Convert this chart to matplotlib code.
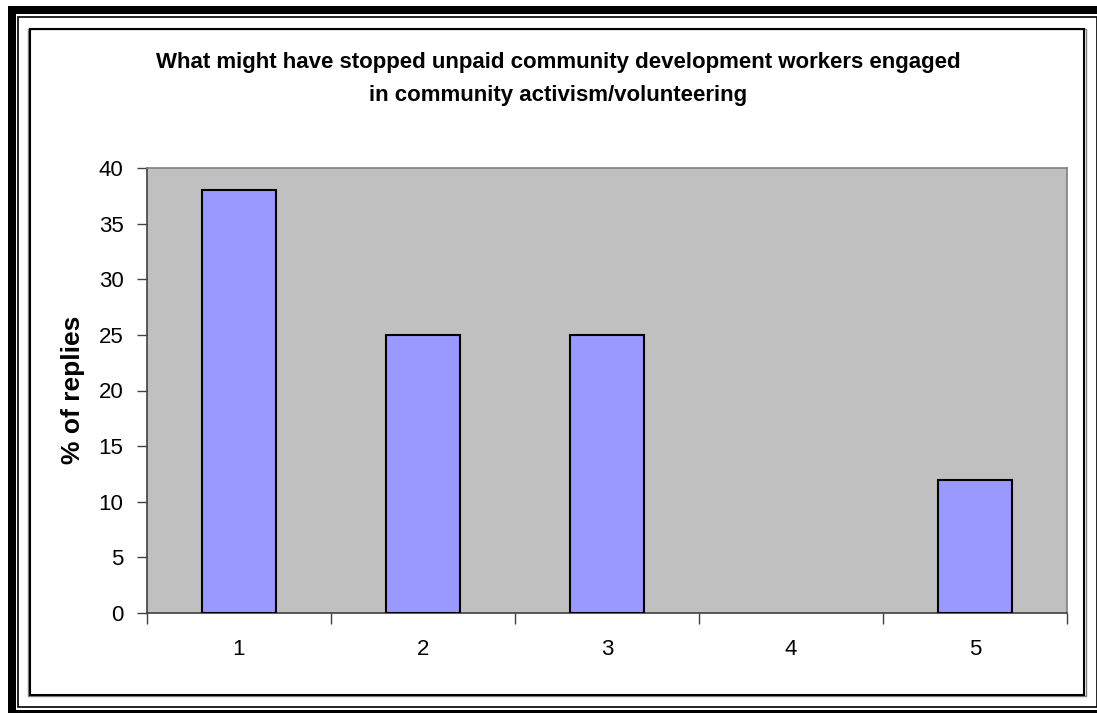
import numpy as np
import matplotlib
matplotlib.use("Agg")
from matplotlib import pyplot as plt
from matplotlib.patches import Rectangle

plt.rcParams['font.family'] = ['Liberation Sans', 'DejaVu Sans']

# data
categories = [1, 2, 3, 4, 5]
replies = [38, 25, 25, 0, 12]
yticks = [0, 5, 10, 15, 20, 25, 30, 35, 40]
title_lines = ["What might have stopped unpaid community development workers engaged",
               "in community activism/volunteering"]

W, H = 1097, 713
fig = plt.figure(figsize=(W / 100, H / 100), dpi=100)
fig.patch.set_facecolor('white')

def fx(x):
    return x / W

def fy(y):
    return 1 - y / H

def frame(x0, y0, x1, y1, **kw):
    # rectangle given in pixel coords from the top-left corner
    r = Rectangle((fx(x0), fy(y1)), fx(x1) - fx(x0), fy(y0) - fy(y1),
                  transform=fig.transFigure, zorder=-5, **kw)
    fig.patches.append(r)

# outer double border
frame(8, 6, 1130, 740, facecolor='black', edgecolor='none')
frame(16, 14, 1120, 710, facecolor='white', edgecolor='none')
frame(17.5, 16.5, 1096.5, 706.5, facecolor='none', edgecolor='black', linewidth=1.2)
# chart box with a small shadow
frame(28, 28.5, 1085.5, 696, facecolor='none', edgecolor='#808080', linewidth=1.0)
frame(29.5, 28.5, 1084, 695, facecolor='none', edgecolor='black', linewidth=1.5)

# plot area
ax = fig.add_axes([fx(147), fy(613), fx(1067) - fx(147), fy(168) - fy(613)])
ax.set_zorder(2)
ax.set_facecolor('#C0C0C0')
# empty categories get no outline
edge_w = [1.5 if v > 0 else 0 for v in replies]
ax.bar(categories, replies, width=0.4, color='#9999FF', edgecolor='black',
       linewidth=edge_w, zorder=3)

ax.set_xlim(0.5, 5.5)
ax.set_ylim(0, 40)
ax.set_yticks(yticks)
ax.set_xticks(np.arange(0.5, 6, 1))
ax.set_xticklabels([])
ax.set_xticks(categories, minor=True)
ax.set_xticklabels([str(c) for c in categories], minor=True)
ax.tick_params(axis='x', which='major', length=8, width=1, color='#404040', direction='out')
ax.tick_params(axis='x', which='minor', length=0, pad=19, labelsize=16)
ax.tick_params(axis='y', length=7, width=1, color='#404040', pad=10, labelsize=16)

for s in ['top', 'right']:
    ax.spines[s].set_color('#808080')
    ax.spines[s].set_linewidth(1.2)
for s in ['left', 'bottom']:
    ax.spines[s].set_color('#404040')
    ax.spines[s].set_linewidth(1.2)

fig.text(fx(73), fy(390), "% of replies", rotation=90, ha='center', va='center',
         fontsize=19, fontweight='bold')
fig.text(fx(558), fy(68), title_lines[0], ha='center', va='baseline', fontsize=16,
         fontweight='bold')
fig.text(fx(558), fy(101), title_lines[1], ha='center', va='baseline', fontsize=16,
         fontweight='bold')

fig.savefig("out.png", dpi=100)
